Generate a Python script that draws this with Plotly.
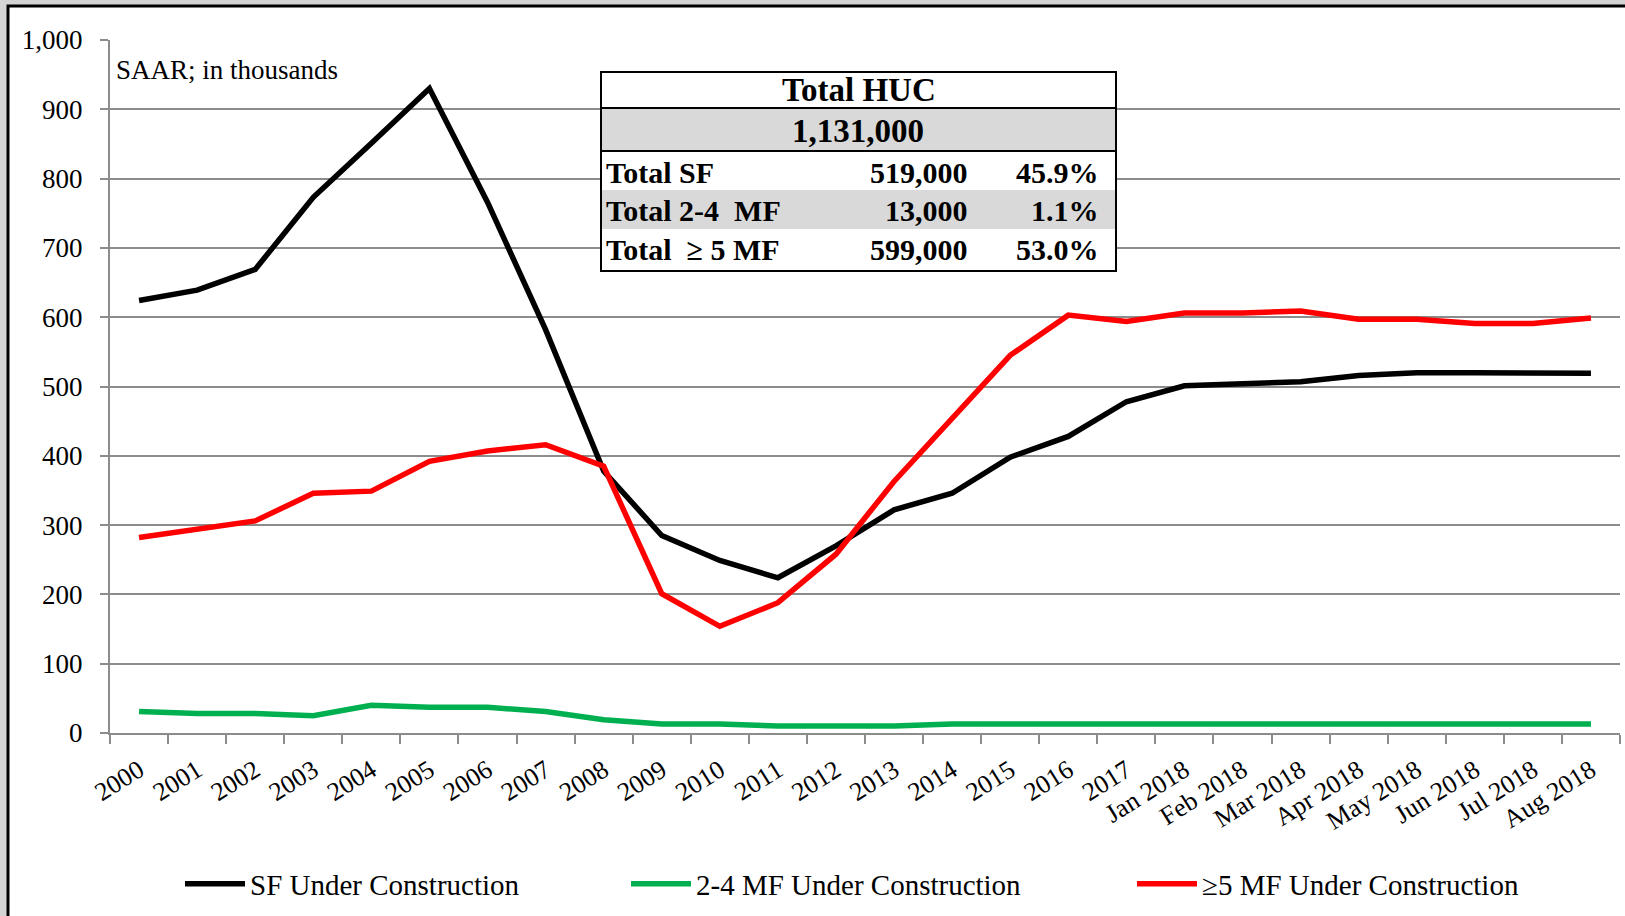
import plotly.graph_objects as go

categories = ["2000", "2001", "2002", "2003", "2004", "2005", "2006", "2007", "2008",
              "2009", "2010", "2011", "2012", "2013", "2014", "2015", "2016", "2017",
              "Jan 2018", "Feb 2018", "Mar 2018", "Apr 2018", "May 2018", "Jun 2018",
              "Jul 2018", "Aug 2018"]

sf_values = [624, 639, 669, 773, 851, 930, 766, 582, 378, 285, 249, 224, 270, 322,
             346, 398, 428, 478, 501, 504, 507, 516, 520, 520, 520, 519]
mf24_values = [31, 28, 28, 25, 40, 37, 37, 31, 19, 13, 13, 10, 10, 10, 13, 13, 13,
               13, 13, 13, 13, 13, 13, 13, 13, 13]
mf5_values = [282, 294, 306, 346, 349, 392, 407, 416, 385, 201, 154, 188, 258, 363,
              454, 545, 603, 594, 606, 606, 609, 597, 597, 591, 591, 599]

series_names = ["SF Under Construction", "2-4 MF Under Construction", "≥5 MF Under Construction"]
series_colors = ["#000000", "#00b050", "#ff0000"]

table_title = "Total HUC"
table_total = "1,131,000"
table_labels = ["Total SF", "Total 2-4  MF", "Total  ≥ 5 MF"]
table_counts = ["519,000", "13,000", "599,000"]
table_pcts = ["45.9%", "1.1%", "53.0%"]

W, H = 1625, 916
L, R, T, B = 110, 5, 40, 183
PW, PH = W - L - R, H - T - B


def px(x):
    return (x - L) / PW


def py(y):
    return (H - B - y) / PH


FONT = "Liberation Serif, Times New Roman, serif"

fig = go.Figure()
legends = ["legend", "legend2", "legend3"]
for name, vals, col, lg in zip(series_names, [sf_values, mf24_values, mf5_values], series_colors, legends):
    fig.add_trace(go.Scatter(x=categories, y=vals, mode="lines", name=name, showlegend=True,
                             line=dict(color=col, width=5.5), legend=lg))

shapes = []
annotations = []
# frame
shapes.append(dict(type="rect", xref="paper", yref="paper", x0=px(8), x1=px(1640),
                   y0=py(930), y1=py(6), line=dict(color="black", width=3),
                   fillcolor="white", layer="below"))

# table
tx0, tx1 = 601, 1116
ty_top, ty_div, ty_g1, ty_g2a, ty_g2b, ty_bot = 72, 108, 151, 190, 229, 271
shapes.append(dict(type="rect", xref="paper", yref="paper", x0=px(tx0), x1=px(tx1),
                   y0=py(ty_bot), y1=py(ty_top), fillcolor="white",
                   line=dict(color="black", width=2)))
shapes.append(dict(type="rect", xref="paper", yref="paper", x0=px(tx0), x1=px(tx1),
                   y0=py(ty_g1), y1=py(ty_div), fillcolor="#d9d9d9",
                   line=dict(color="black", width=2)))
shapes.append(dict(type="rect", xref="paper", yref="paper", x0=px(tx0 + 1), x1=px(tx1 - 1),
                   y0=py(ty_g2b), y1=py(ty_g2a), fillcolor="#d9d9d9",
                   line=dict(width=0)))
shapes.append(dict(type="rect", xref="paper", yref="paper", x0=px(tx0), x1=px(tx1),
                   y0=py(ty_bot), y1=py(ty_top), fillcolor="rgba(0,0,0,0)",
                   line=dict(color="black", width=2)))

title_font = dict(family=FONT, size=33, color="black")
row_font = dict(family=FONT, size=30, color="black")
annotations.append(dict(text="<b>" + table_title + "</b>", xref="paper", yref="paper",
                        x=px(859), y=py(90), xanchor="center", yanchor="middle",
                        showarrow=False, font=title_font))
annotations.append(dict(text="<b>" + table_total + "</b>", xref="paper", yref="paper",
                        x=px(858), y=py(131), xanchor="center", yanchor="middle",
                        showarrow=False, font=title_font))
row_y = [172, 211, 250]
for lab, cnt, pct, yy in zip(table_labels, table_counts, table_pcts, row_y):
    annotations.append(dict(text="<b>" + lab + "</b>", xref="paper", yref="paper",
                            x=px(604), y=py(yy), xanchor="left", yanchor="middle",
                            showarrow=False, font=row_font))
    annotations.append(dict(text="<b>" + cnt + "</b>", xref="paper", yref="paper",
                            x=px(970), y=py(yy), xanchor="right", yanchor="middle",
                            showarrow=False, font=row_font))
    annotations.append(dict(text="<b>" + pct + "</b>", xref="paper", yref="paper",
                            x=px(1101), y=py(yy), xanchor="right", yanchor="middle",
                            showarrow=False, font=row_font))

annotations.append(dict(text="SAAR; in thousands", xref="paper", yref="paper",
                        x=px(114), y=py(70), xanchor="left", yanchor="middle",
                        showarrow=False, font=dict(family=FONT, size=27, color="black")))

leg_font = dict(family=FONT, size=29, color="black")
leg_common = dict(orientation="h", xanchor="left", yanchor="middle", font=leg_font,
                  bgcolor="rgba(0,0,0,0)", itemwidth=60, borderwidth=0, visible=True)
fig.update_layout(
    showlegend=True,
    legend=dict(x=px(180), y=py(884), **leg_common),
    legend2=dict(x=px(626), y=py(884), **leg_common),
    legend3=dict(x=px(1132), y=py(884), **leg_common),
)

fig.update_layout(
    width=W, height=H,
    margin=dict(l=L, r=R, t=T, b=B, autoexpand=False),
    paper_bgcolor="#d4d4d4",
    plot_bgcolor="white",
    font=dict(family=FONT, color="black"),
    shapes=shapes,
    annotations=annotations,
    xaxis=dict(type="category", range=[-0.5, len(categories) - 0.5],
               showgrid=False, showline=True, linecolor="#8c8c8c", linewidth=2,
               ticks="outside", tickson="boundaries", ticklen=9, tickwidth=2,
               tickcolor="#8c8c8c", tickangle=-32, ticklabelstandoff=10,
               tickfont=dict(family=FONT, size=26, color="black")),
    yaxis=dict(range=[0, 1000], dtick=100, tickformat=",", showgrid=True,
               gridcolor="#8c8c8c", gridwidth=2, showline=True, linecolor="#8c8c8c",
               linewidth=2, ticks="outside", ticklen=8, tickwidth=2, tickcolor="#8c8c8c",
               ticklabelstandoff=12, zeroline=False,
               tickfont=dict(family=FONT, size=27, color="black")),
)

fig.write_html("out.html", config={"displayModeBar": False},
               post_script="document.body.style.margin='0';document.body.style.overflow='hidden';")
